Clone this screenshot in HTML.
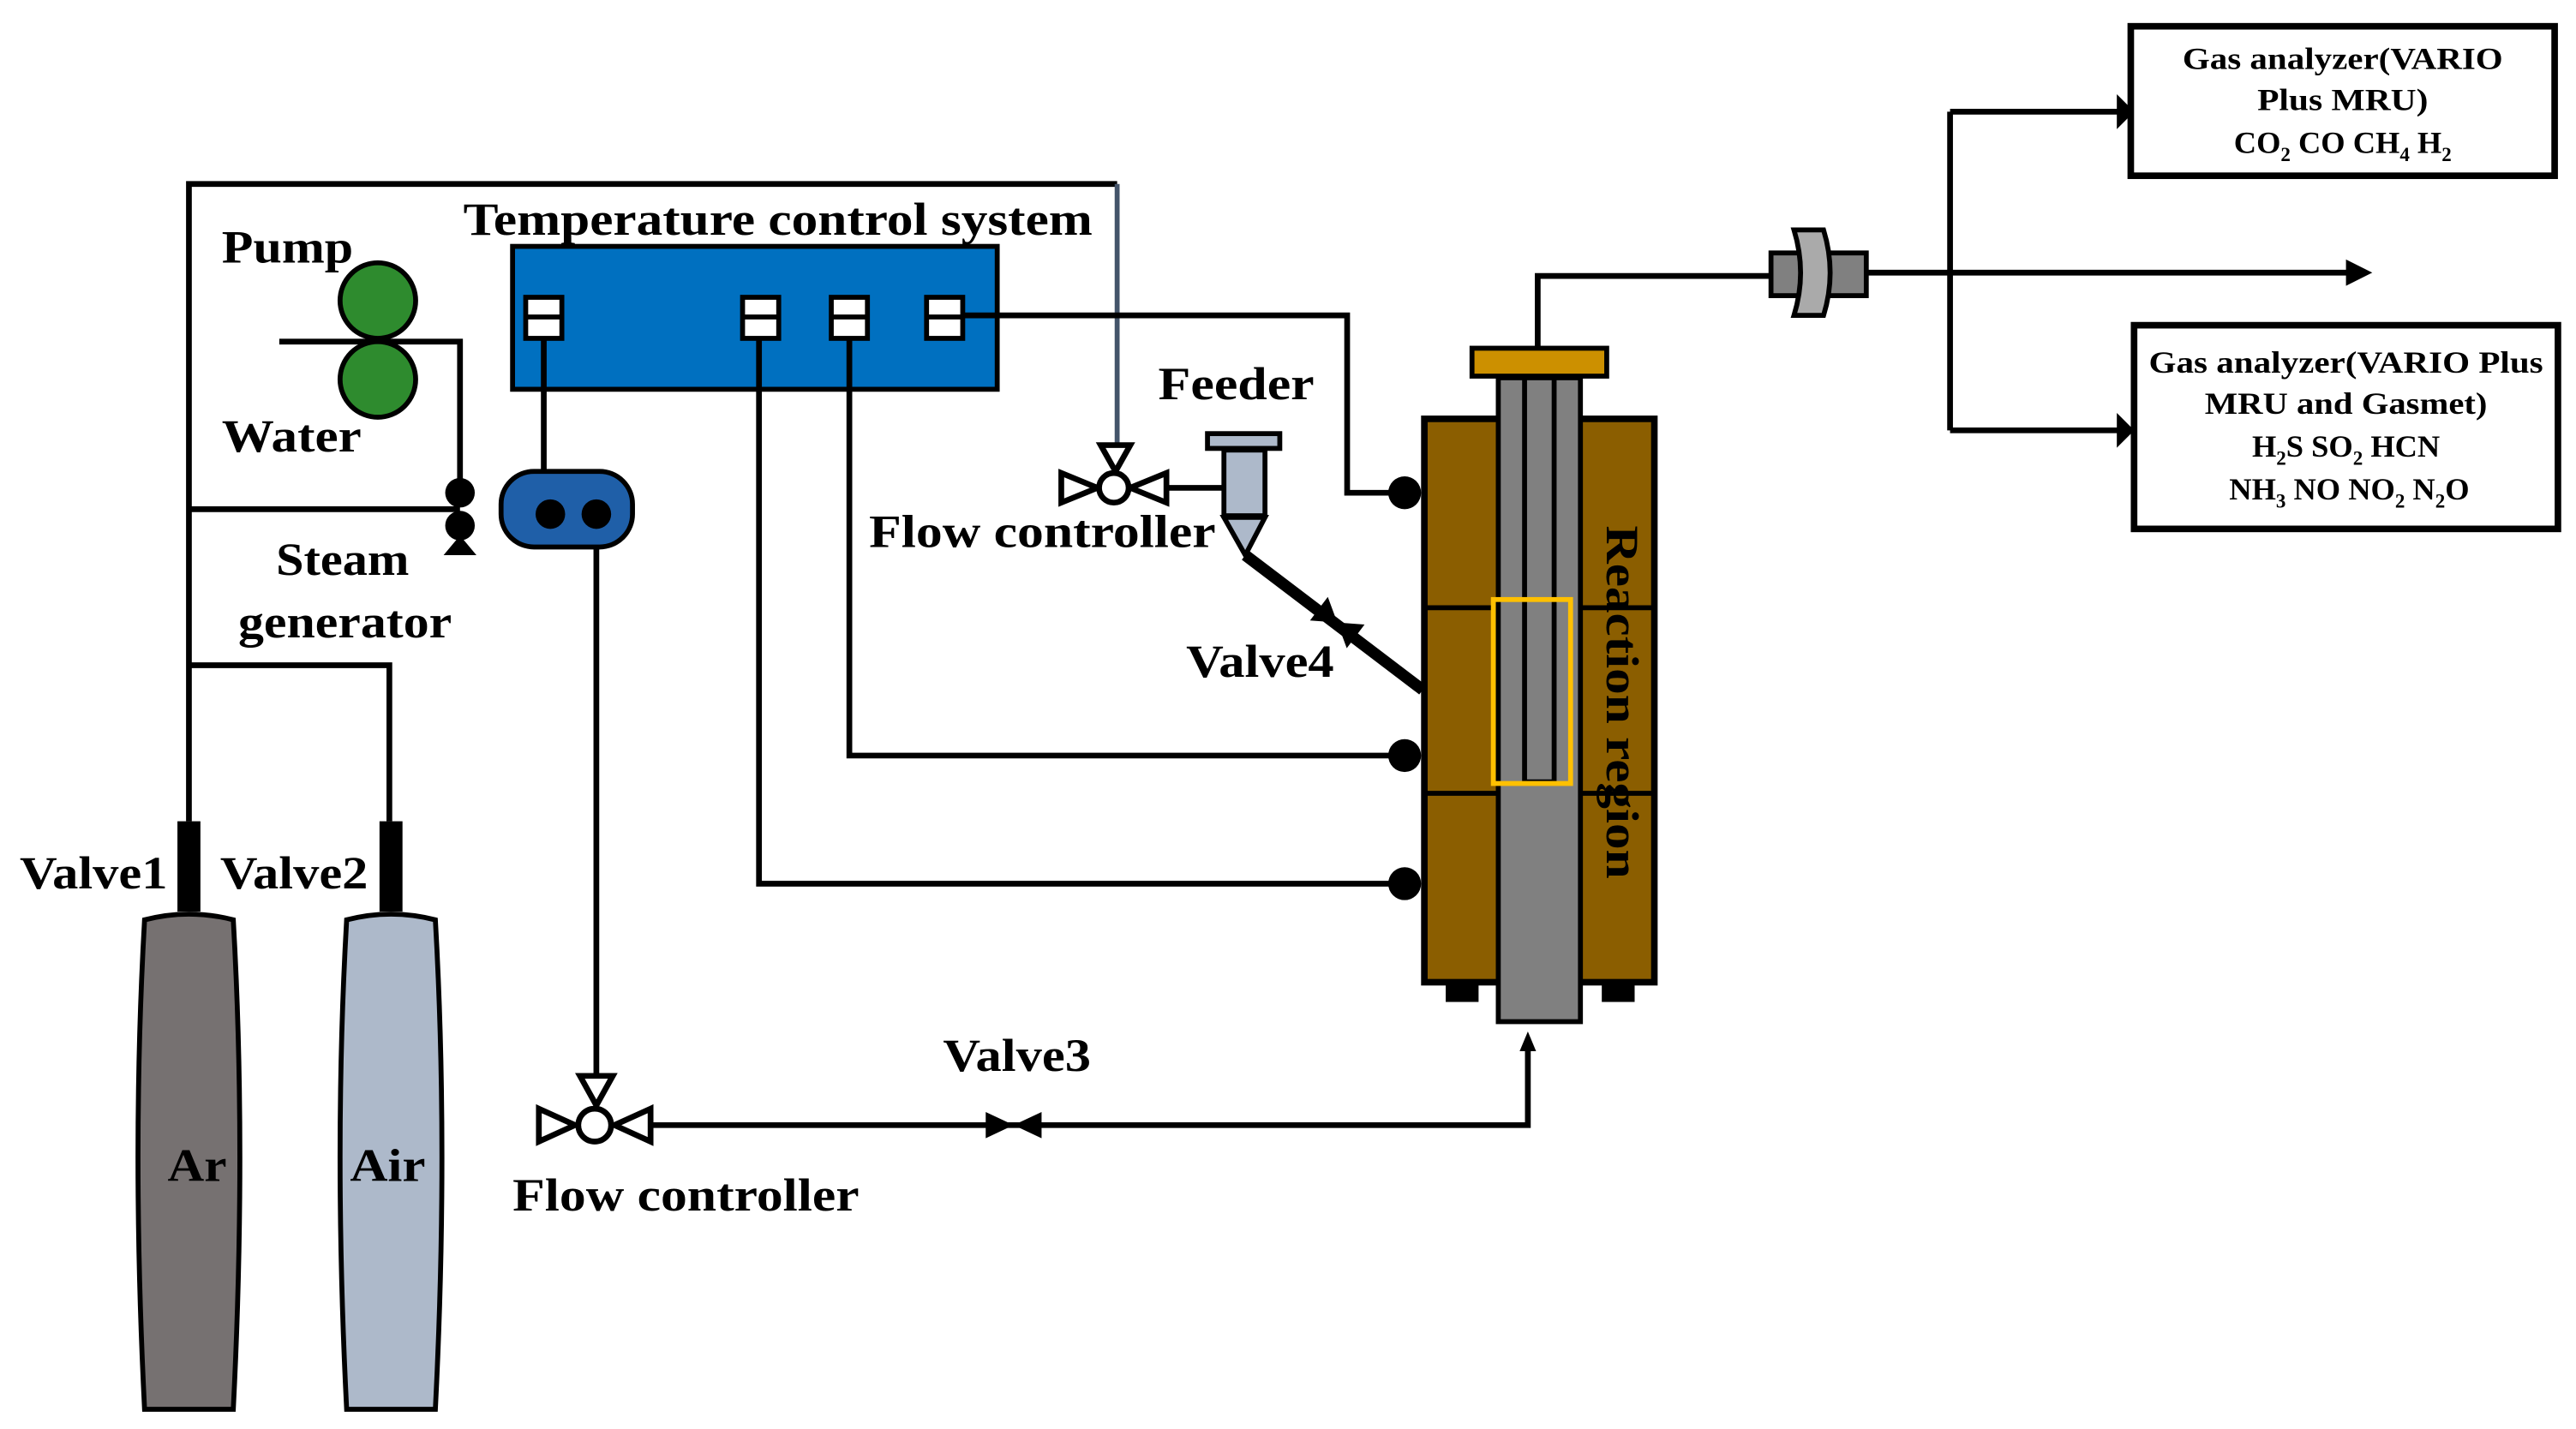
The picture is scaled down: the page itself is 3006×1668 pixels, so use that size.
<!DOCTYPE html>
<html><head><style>
html,body{margin:0;padding:0;background:#fff;}
svg{display:block;}
text{font-family:"Liberation Serif",serif;font-weight:bold;fill:#000;}
</style></head><body>
<svg width="3006" height="1668" viewBox="0 0 1568 870" preserveAspectRatio="none" xmlns="http://www.w3.org/2000/svg">
<g fill="none" stroke="#000" stroke-width="3.5">
<path d="M115,500 V112 H680"/>
<path d="M115,310 H280"/>
<path d="M115,405 H237 V500"/>
<path d="M170,208 H280 V300"/>
</g>
<path d="M680,112 V272" stroke="#44546A" stroke-width="3" fill="none"/>
<rect x="312" y="150" width="295" height="87" fill="#0070C0" stroke="#000" stroke-width="3"/>
<g fill="#fff" stroke="#000" stroke-width="3">
<rect x="320" y="181" width="22" height="25"/><rect x="452" y="181" width="22" height="25"/>
<rect x="506" y="181" width="22" height="25"/><rect x="564" y="181" width="22" height="25"/>
</g>
<g stroke="#000" stroke-width="3">
<path d="M320,193 H342 M452,193 H474 M506,193 H528 M564,193 H586"/>
</g>
<g fill="none" stroke="#000" stroke-width="3.5">
<path d="M586,192 H820 V300 H855"/>
<path d="M517,206 V460 H855"/>
<path d="M462,206 V538 H855"/>
<path d="M331,206 V295"/>
<path d="M363,313 V655"/>
<path d="M396,685 H930 V632"/>
<path d="M936,213 V168 H1080"/>
<path d="M1135,166 H1435"/>
<path d="M1187,68 V262"/>
<path d="M1187,68 H1290"/>
<path d="M1187,262 H1290"/>
<path d="M710,297 H745"/>
</g>
<path d="M925,640 L930,628 L935,640 z" fill="#000"/>
<path d="M1290,61 L1297,68 L1290,75 z" fill="#000" stroke="#000" stroke-width="3"/>
<path d="M1290,255 L1297,262 L1290,269 z" fill="#000" stroke="#000" stroke-width="3"/>
<path d="M1428,158 L1444,166 L1428,174 z" fill="#000"/>
<g fill="#000"><circle cx="855" cy="300" r="10"/><circle cx="855" cy="460" r="10"/><circle cx="855" cy="538" r="10"/></g>
<circle cx="230" cy="183" r="23" fill="#2E8B2E" stroke="#000" stroke-width="3"/>
<circle cx="230" cy="231" r="23" fill="#2E8B2E" stroke="#000" stroke-width="3"/>
<circle cx="280" cy="300" r="9" fill="#000"/><circle cx="280" cy="320" r="9" fill="#000"/>
<path d="M270,338 L280,326 L290,338 z" fill="#000"/>
<rect x="305" y="287" width="80" height="46" rx="20" fill="#1F5FA8" stroke="#000" stroke-width="3"/>
<circle cx="335" cy="313" r="9" fill="#000"/><circle cx="363" cy="313" r="9" fill="#000"/>
<g fill="#fff" stroke="#000" stroke-width="3.5">
<path d="M328,675 L350,685 L328,695 z"/><path d="M396,675 L374,685 L396,695 z"/>
<path d="M353,655 L363,673 L373,655 z"/><circle cx="362" cy="685" r="10"/>
</g>
<g fill="#fff" stroke="#000" stroke-width="3.5">
<path d="M646,288 L668,297 L646,306 z"/><path d="M710,288 L688,297 L710,306 z"/>
<path d="M670,271 L679,287 L688,271 z"/><circle cx="678" cy="297" r="9"/>
</g>
<path d="M600,677 L617,685 L600,693 z M634,677 L617,685 L634,693 z" fill="#000"/>
<rect x="735" y="264" width="44" height="9" fill="#ADB9CA" stroke="#000" stroke-width="3"/>
<rect x="745" y="274" width="25" height="40" fill="#ADB9CA" stroke="#000" stroke-width="3"/>
<path d="M745,315 L770,315 L758,338 z" fill="#ADB9CA" stroke="#000" stroke-width="3"/>
<path d="M758,338 L866,420" stroke="#000" stroke-width="7" fill="none"/>
<g transform="translate(814,379) rotate(37)">
<path d="M-14,-9 L0,0 L-14,9 z M14,-9 L0,0 L14,9 z" fill="#000"/>
</g>
<rect x="867" y="255" width="140" height="343" fill="#8B5E00" stroke="#000" stroke-width="4"/>
<path d="M867,370 H1007 M867,483 H1007" stroke="#000" stroke-width="3"/>
<rect x="880" y="598" width="20" height="12" fill="#000"/><rect x="975" y="598" width="20" height="12" fill="#000"/>
<rect x="912" y="230" width="50" height="392" fill="#808080" stroke="#000" stroke-width="3"/>
<rect x="928" y="230" width="18" height="246" fill="#808080" stroke="#000" stroke-width="3"/>
<rect x="896" y="212" width="82" height="17" fill="#CC9000" stroke="#000" stroke-width="3"/>
<rect x="909" y="365" width="47" height="112" fill="none" stroke="#FFC000" stroke-width="3"/>
<rect x="1078" y="154" width="58" height="26" fill="#808080" stroke="#000" stroke-width="3"/>
<path d="M1092,140 L1110,140 Q1118,166 1110,192 L1092,192 Q1100,166 1092,140 z" fill="#AAA" stroke="#000" stroke-width="3"/>
<rect x="1297" y="16" width="258" height="91" fill="#fff" stroke="#000" stroke-width="4"/>
<rect x="1299" y="198" width="258" height="124" fill="#fff" stroke="#000" stroke-width="4"/>
<rect x="108" y="500" width="14" height="55" fill="#000"/><rect x="231" y="500" width="14" height="55" fill="#000"/>
<path d="M88,560 Q115,553 142,560 Q150,700 142,858 L88,858 Q80,700 88,560 z" fill="#767171" stroke="#000" stroke-width="3"/>
<path d="M211,560 Q238,553 265,560 Q273,700 265,858 L211,858 Q203,700 211,560 z" fill="#ADB9CA" stroke="#000" stroke-width="3"/>
<g font-size="28" lengthAdjust="spacingAndGlyphs">
<text x="135" y="160" textLength="80" lengthAdjust="spacingAndGlyphs">Pump</text>
<text x="135" y="275" textLength="85" lengthAdjust="spacingAndGlyphs">Water</text>
<text x="282" y="143" textLength="383" lengthAdjust="spacingAndGlyphs">Temperature control system</text>
<text x="168" y="350" textLength="81" lengthAdjust="spacingAndGlyphs">Steam</text>
<text x="145" y="388" textLength="130" lengthAdjust="spacingAndGlyphs">generator</text>
<text x="705" y="243" textLength="95" lengthAdjust="spacingAndGlyphs">Feeder</text>
<text x="529" y="333" textLength="211" lengthAdjust="spacingAndGlyphs">Flow controller</text>
<text x="722" y="412" textLength="90" lengthAdjust="spacingAndGlyphs">Valve4</text>
<text x="12" y="541" textLength="90" lengthAdjust="spacingAndGlyphs">Valve1</text>
<text x="134" y="541" textLength="90" lengthAdjust="spacingAndGlyphs">Valve2</text>
<text x="574" y="652" textLength="90" lengthAdjust="spacingAndGlyphs">Valve3</text>
<text x="312" y="737" textLength="211" lengthAdjust="spacingAndGlyphs">Flow controller</text>
<text x="102" y="719" textLength="36" lengthAdjust="spacingAndGlyphs">Ar</text>
<text x="213" y="719" textLength="46" lengthAdjust="spacingAndGlyphs">Air</text>
<text transform="translate(978,320) rotate(90)" textLength="215" lengthAdjust="spacingAndGlyphs">Reaction region</text>
</g>
<g font-size="19" text-anchor="middle">
<text x="1426" y="42" textLength="195" lengthAdjust="spacingAndGlyphs">Gas analyzer(VARIO</text>
<text x="1426" y="67" textLength="104" lengthAdjust="spacingAndGlyphs">Plus MRU)</text>
<text x="1426" y="93">CO<tspan font-size="12" dy="5">2</tspan><tspan dy="-5"> CO CH</tspan><tspan font-size="12" dy="5">4</tspan><tspan dy="-5"> H</tspan><tspan font-size="12" dy="5">2</tspan></text>
<text x="1428" y="227" textLength="240" lengthAdjust="spacingAndGlyphs">Gas analyzer(VARIO Plus</text>
<text x="1428" y="252" textLength="172" lengthAdjust="spacingAndGlyphs">MRU and Gasmet)</text>
<text x="1428" y="278">H<tspan font-size="12" dy="5">2</tspan><tspan dy="-5">S SO</tspan><tspan font-size="12" dy="5">2</tspan><tspan dy="-5"> HCN</tspan></text>
<text x="1430" y="304">NH<tspan font-size="12" dy="5">3</tspan><tspan dy="-5"> NO NO</tspan><tspan font-size="12" dy="5">2</tspan><tspan dy="-5"> N</tspan><tspan font-size="12" dy="5">2</tspan><tspan dy="-5">O</tspan></text>
</g>
</svg>
</body></html>
